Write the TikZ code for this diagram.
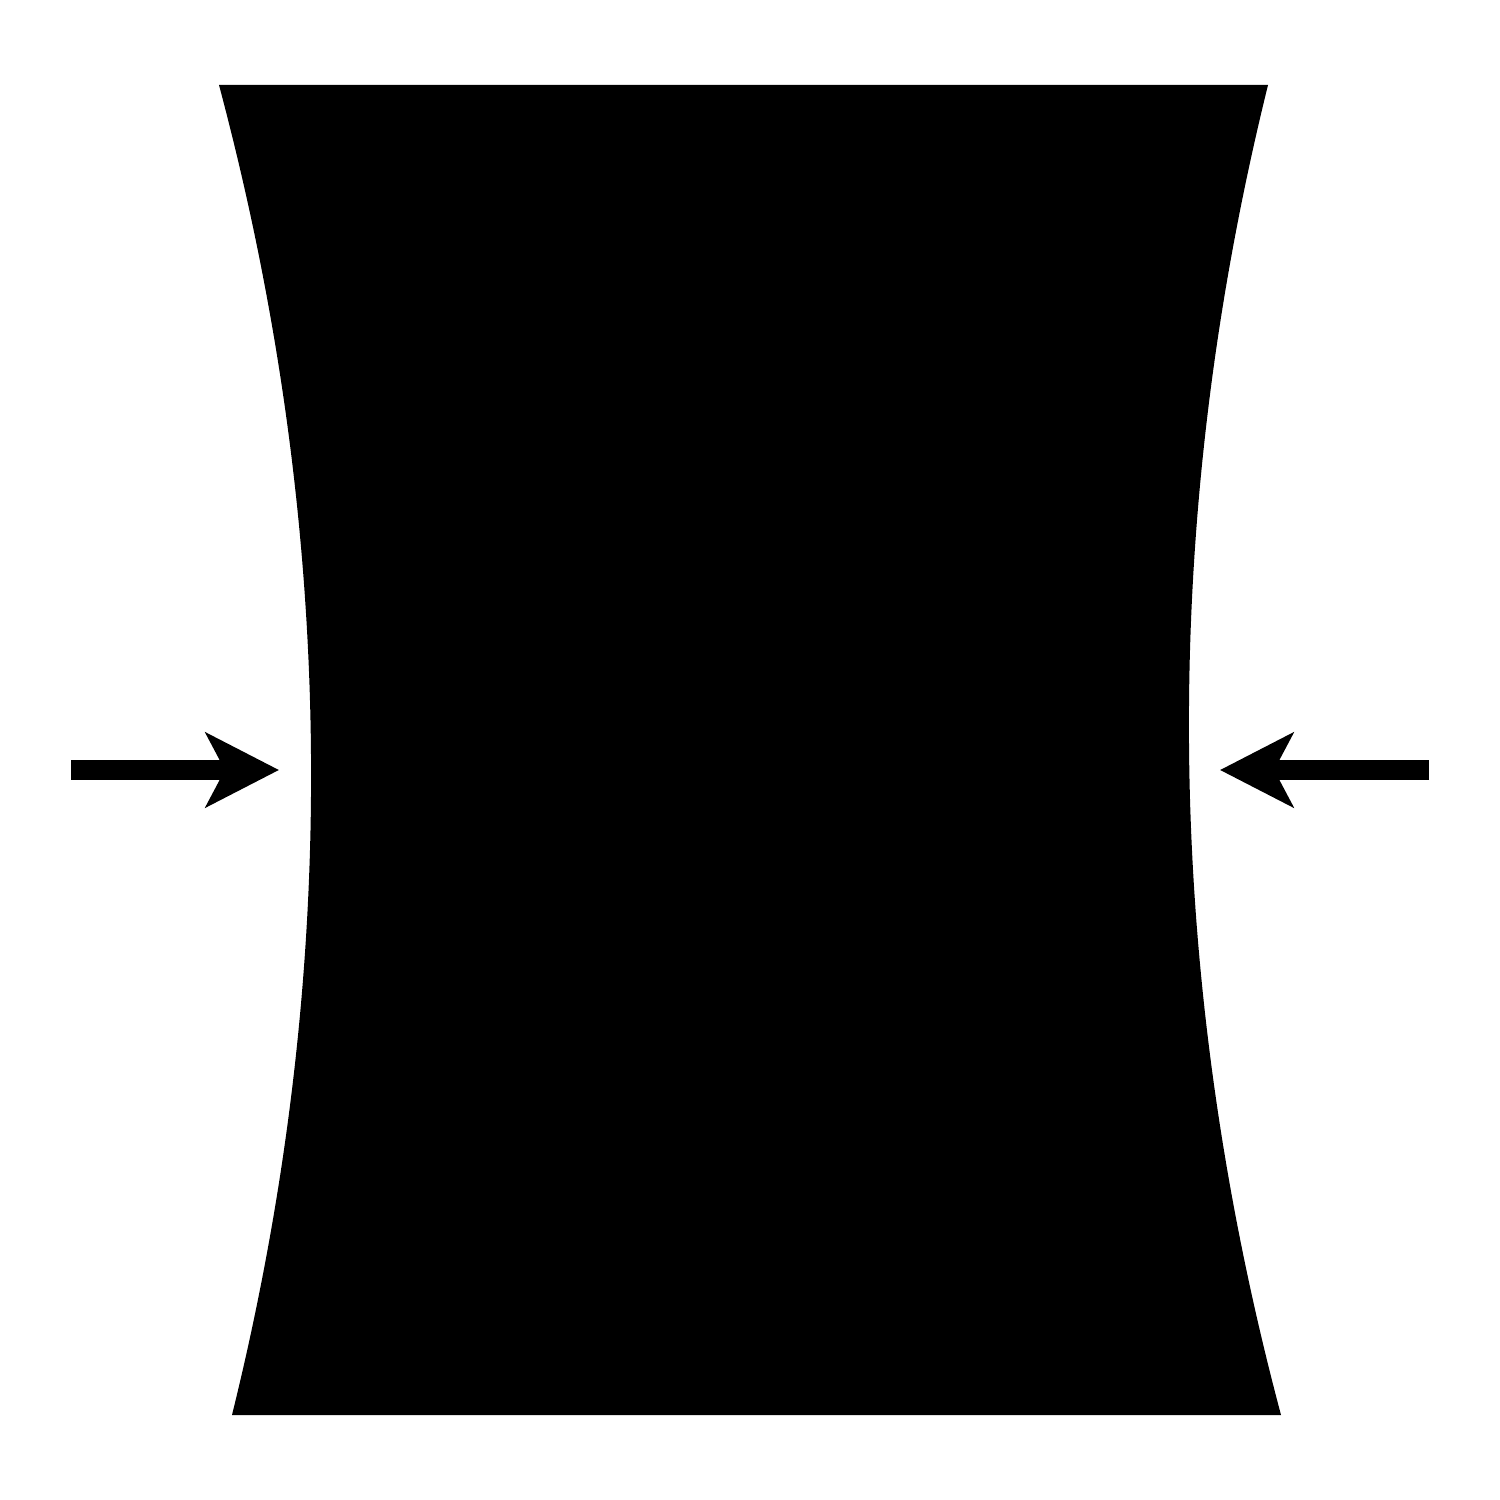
\documentclass[tikz,border=0pt]{standalone}
\usepackage{tikz}
\usetikzlibrary{arrows.meta}

\begin{document}
\begin{tikzpicture}[
  x=0.01cm,y=-0.01cm,
  body/.style={fill=black,draw=none},
  push/.style={draw=black,line width=0.2cm,
               -{Stealth[length=0.73cm,width=0.74cm,inset=0.19cm]}},
]

%% Page frame (1500 x 1500 units)
\useasboundingbox (0,0) rectangle (1500,1500);

%% Corners of the waisted block
\coordinate (TL) at (219,85);
\coordinate (TR) at (1268,85);
\coordinate (BR) at (1281,1415);
\coordinate (BL) at (232,1415);

%% Block with concave sides
\fill[body] (TL) -- (TR)
  .. controls (1158.4,528.3) and (1162.7,971.5) .. (BR)
  -- (BL)
  .. controls (341.6,971.7) and (337.3,528.5) .. (TL) -- cycle;

%% Arrow ends
\coordinate (lstart) at (71,770);
\coordinate (ltip)   at (279,770);
\coordinate (rstart) at (1429,770);
\coordinate (rtip)   at (1220,770);

%% Squeezing arrows
\draw[push] (lstart) -- (ltip);
\draw[push] (rstart) -- (rtip);

\end{tikzpicture}
\end{document}
